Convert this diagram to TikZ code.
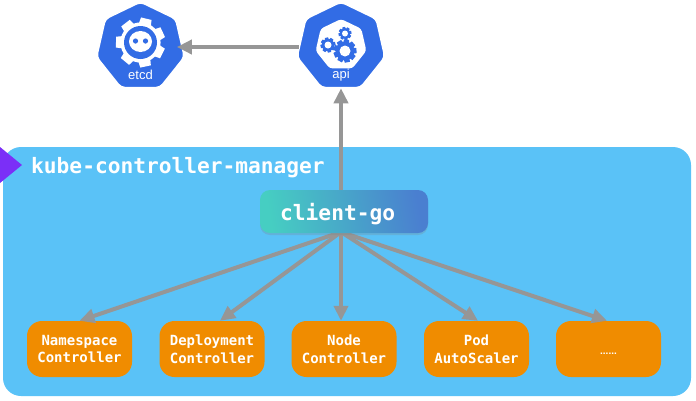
\documentclass[tikz,border=0pt]{standalone}
\usepackage{fontspec}
\setmainfont{Liberation Sans}
\setmonofont{DejaVu Sans Mono}
\usetikzlibrary{arrows.meta,shapes.geometric,shadows}

\definecolor{panelblue}{HTML}{5AC2F7}
\definecolor{k8sblue}{HTML}{326CE5}
\definecolor{ctrlorange}{HTML}{F08C00}
\definecolor{arrowgray}{HTML}{969696}
\definecolor{markpurple}{HTML}{7B2FF7}
\definecolor{goleft}{HTML}{46CEC2}
\definecolor{goright}{HTML}{4A7FD0}

% roue dentee : centre x, centre y, rayon, trou, nb de dents, couleur dents, couleur trou
\newcommand{\gearicon}[7]{%
  \fill[#6] (#1,#2) circle (#3*0.82);
  \foreach \a in {1,...,#5}
    \fill[#6,shift={(#1,#2)},rotate=\a*360/#5+12]
      (-#3*0.34,0) -- (-#3*0.22,#3) -- (#3*0.22,#3) -- (#3*0.34,0) -- cycle;
  \fill[#7] (#1,#2) circle (#4);
}

\tikzset{
  hepta/.style={regular polygon,regular polygon sides=7,minimum size=90pt,inner sep=0pt,
    fill=k8sblue,draw=white,line width=1.5pt,rounded corners=4pt},
  heptalabel/.style={text=white,font=\fontsize{13}{15}\selectfont,inner sep=0pt},
  ctrl/.style={fill=ctrlorange,rounded corners=15pt,minimum width=105pt,minimum height=56pt,
    inner sep=0pt,align=center,text=white,text depth=-5pt,
    font=\ttfamily\bfseries\fontsize{14}{17.7}\selectfont},
  conn/.style={draw=arrowgray,line width=4pt,-{Triangle[length=15pt,width=14pt]}},
  title/.style={text=white,inner sep=0pt,font=\ttfamily\bfseries\fontsize{21.2}{24}\selectfont},
}

\begin{document}
\begin{tikzpicture}[x=1pt,y=-1pt,>=Triangle]
  \useasboundingbox (0,0) rectangle (696,400);
  % fond
  \fill[panelblue,rounded corners=18pt] (3,147) rectangle (691,396);
  \node[title,anchor=west] (manager) at (31,167.5) {kube-controller-manager};
  \fill[markpurple] (0,147) -- (22,165) -- (0,183) -- cycle;

  % etcd et api
  \node[hepta] (etcd) at (140.5,47) {};
  \node[hepta] (api) at (341,47) {};
  \node[heptalabel] (etcdlabel) at (140.5,74.5) {etcd};
  \node[heptalabel] (apilabel) at (341,75) {api};

  % icone etcd
  \gearicon{140.5}{42.5}{24.5}{16.5}{7}{white}{k8sblue}
  \fill[white] (140.5,41.5) ellipse (11.5 and 10.5);
  \fill[k8sblue] (135.5,41) circle (2.6);
  \fill[k8sblue] (145.5,41) circle (2.6);

  % icone api
  \node[regular polygon,regular polygon sides=7,minimum size=52pt,inner sep=0pt,fill=white,
    rounded corners=3pt] (apiicon) at (341,45) {};
  \gearicon{345}{51}{11.5}{5.5}{9}{k8sblue}{white}
  \gearicon{328}{45}{7.5}{3.5}{8}{k8sblue}{white}
  \gearicon{345}{33.5}{6.5}{3}{8}{k8sblue}{white}

  % controleurs
  \node[ctrl] (namespace) at (79.5,349) {Namespace\\Controller};
  \node[ctrl] (deployment) at (212,349) {Deployment\\Controller};
  \node[ctrl] (nodectrl) at (344,349) {Node\\Controller};
  \node[ctrl] (pod) at (476.5,349) {Pod\\AutoScaler};
  \node[ctrl,text depth=0pt,font=\bfseries\fontsize{10}{12}\selectfont] (others) at (608.5,349) {\raisebox{-5pt}{......}};

  % fleches
  \coordinate (hub) at (341,232);
  \draw[conn,shorten >=-6pt] (api) -- (etcd);
  \draw[conn] (hub) -- (api);
  \draw[conn] (hub) -- (namespace.north);
  \draw[conn] (hub) -- ([xshift=8pt]deployment.north);
  \draw[conn] (hub) -- ([xshift=-3pt]nodectrl.north);
  \draw[conn] (hub) -- ([xshift=1.5pt]pod.north);
  \draw[conn] (hub) -- ([xshift=-1.5pt]others.north);

  % client-go
  \node[rounded corners=10pt,minimum width=168pt,minimum height=43pt,inner sep=0pt,
    left color=goleft,right color=goright,shading angle=100,
    drop shadow={shadow xshift=0pt,shadow yshift=-2pt,opacity=0.25}] (client) at (344,211.5) {};
  \node[title,anchor=west] (clientlabel) at (280,214) {client-go};
\end{tikzpicture}
\end{document}
